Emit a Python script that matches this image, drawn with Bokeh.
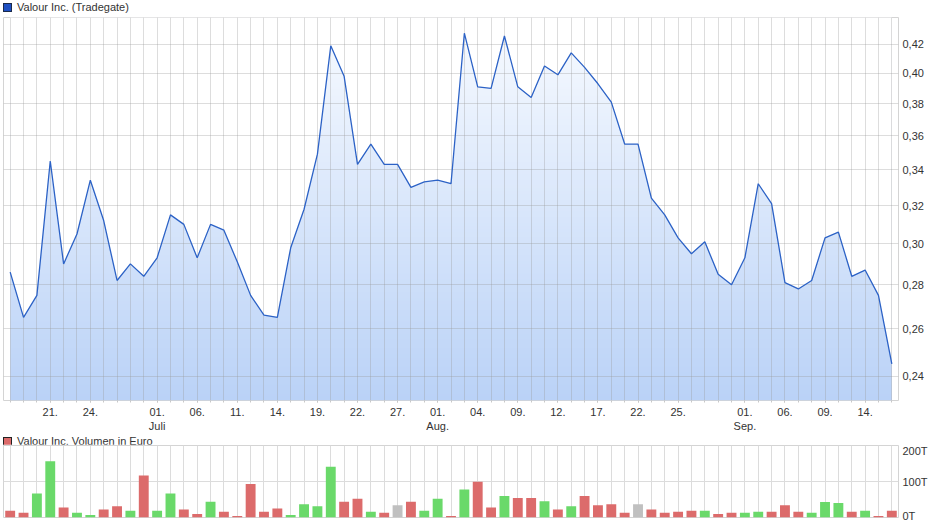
import numpy as np
from bokeh.plotting import figure
from bokeh.models import (FixedTicker, CustomJSTickFormatter, Range1d, ColumnDataSource, Div)
from bokeh.layouts import column
from bokeh.embed import file_html
from bokeh.resources import INLINE

# ---------------- data ----------------
dates = [
    "2022-06-16", "2022-06-17", "2022-06-20", "2022-06-21", "2022-06-22", "2022-06-23",
    "2022-06-24", "2022-06-27", "2022-06-28", "2022-06-29", "2022-06-30",
    "2022-07-01", "2022-07-04", "2022-07-05", "2022-07-06", "2022-07-07", "2022-07-08",
    "2022-07-11", "2022-07-12", "2022-07-13", "2022-07-14", "2022-07-15", "2022-07-18",
    "2022-07-19", "2022-07-20", "2022-07-21", "2022-07-22", "2022-07-25", "2022-07-26",
    "2022-07-27", "2022-07-28", "2022-07-29",
    "2022-08-01", "2022-08-02", "2022-08-03", "2022-08-04", "2022-08-05", "2022-08-08",
    "2022-08-09", "2022-08-10", "2022-08-11", "2022-08-12", "2022-08-15", "2022-08-16",
    "2022-08-17", "2022-08-18", "2022-08-19", "2022-08-22", "2022-08-23", "2022-08-24",
    "2022-08-25", "2022-08-26", "2022-08-29", "2022-08-30", "2022-08-31",
    "2022-09-01", "2022-09-02", "2022-09-05", "2022-09-06", "2022-09-07", "2022-09-08",
    "2022-09-09", "2022-09-12", "2022-09-13", "2022-09-14", "2022-09-15", "2022-09-16",
]

price = [
    0.286, 0.265, 0.275, 0.345, 0.290, 0.305, 0.334, 0.312, 0.282, 0.290, 0.284,
    0.293, 0.315, 0.310, 0.293, 0.310, 0.307, 0.291, 0.275, 0.266, 0.265, 0.298,
    0.318, 0.349, 0.419, 0.398, 0.343, 0.355, 0.343, 0.343, 0.330, 0.333, 0.334,
    0.332, 0.428, 0.391, 0.390, 0.426, 0.391, 0.384, 0.405, 0.399, 0.414, 0.404,
    0.393, 0.381, 0.355, 0.355, 0.324, 0.315, 0.303, 0.295, 0.301, 0.285, 0.280,
    0.293, 0.332, 0.321, 0.281, 0.278, 0.282, 0.303, 0.306, 0.284, 0.287, 0.275,
    0.245,
]

# volume in thousand euro (T)
volume_t = [
    19, 13, 67, 156, 28, 13, 7, 22, 31, 19, 117, 19, 67, 22, 10, 44, 16, 4, 93, 16,
    25, 7, 37, 31, 141, 44, 52, 16, 13, 34, 44, 19, 52, 4, 78, 99, 28, 60, 54, 54,
    45, 22, 31, 60, 34, 37, 13, 37, 22, 13, 16, 19, 19, 10, 13, 13, 16, 16, 34, 16,
    13, 43, 40, 16, 19, 4, 19,
]

tick_dates = [
    "2022-06-21", "2022-06-24", "2022-07-01", "2022-07-06", "2022-07-11", "2022-07-14",
    "2022-07-19", "2022-07-22", "2022-07-27", "2022-08-01", "2022-08-04", "2022-08-09",
    "2022-08-12", "2022-08-17", "2022-08-22", "2022-08-25", "2022-09-01", "2022-09-06",
    "2022-09-09", "2022-09-14",
]
tick_texts = [
    "21.", "24.", "01.\nJuli", "06.", "11.", "14.", "19.", "22.", "27.", "01.\nAug.",
    "04.", "09.", "12.", "17.", "22.", "25.", "01.\nSep.", "06.", "09.", "14.",
]

price_ticks = [0.24, 0.26, 0.28, 0.30, 0.32, 0.34, 0.36, 0.38, 0.40, 0.42]
volume_ticks = [0, 100, 200]

price_title = "Valour Inc. (Tradegate)"
volume_title = "Valour Inc. Volumen in Euro"

# ---------------- derived ----------------
n = len(dates)
idx = list(range(n))
tick_idx = [dates.index(d) for d in tick_dates]

GREEN, RED, GRAY = "#6ad96a", "#dc6b6b", "#c0c0c0"
bar_colors = []
for i in range(n):
    if i == 0 or price[i] < price[i - 1]:
        bar_colors.append(RED)
    elif price[i] > price[i - 1]:
        bar_colors.append(GREEN)
    else:
        bar_colors.append(GRAY)

FONT = "Liberation Sans"
TXT = "#333333"
W = 940
LEFT = 3
RIGHT = 42

y_lo, y_hi = 0.2303, 0.4395


def legend_div(label, fill, border, h):
    html = (
        f'<div style="display:flex;align-items:center;height:{h}px;'
        f'font-family:\'{FONT}\';font-size:11px;color:{TXT};white-space:nowrap;">'
        f'<span style="display:inline-block;box-sizing:border-box;width:9px;height:9px;'
        f'background:{fill};border:1px solid {border};margin:0 5px 0 3px;"></span>'
        f'<span>{label}</span></div>'
    )
    return Div(text=html, width=W, height=h, margin=(0, 0, 0, 0))


# ---------------- price chart ----------------
p = figure(width=W, height=421, x_range=Range1d(-0.5, n - 0.5),
           y_range=Range1d(y_lo, y_hi), y_axis_type="log", y_axis_location="right",
           output_backend="svg", toolbar_location=None,
           min_border_left=LEFT, min_border_right=RIGHT, min_border_top=4, min_border_bottom=0)
p.outline_line_color = "#d4d4d4"
p.background_fill_color = "white"

# gradient underlay (fills the area under the line together with the white mask)
rows = 256
t = np.linspace(0.0, 1.0, rows)[:, None]
c_bot = np.array([186, 210, 247], dtype=float)
c_top = np.array([248, 251, 255], dtype=float)
rgb = c_bot + (c_top - c_bot) * t
img = np.empty((rows, 2), dtype=np.uint32)
view = img.view(dtype=np.uint8).reshape((rows, 2, 4))
for k in range(3):
    view[:, :, k] = rgb[:, k].round().astype(np.uint8)[:, None]
view[:, :, 3] = 255
p.image_rgba(image=[img], x=0, y=y_lo, dw=n - 1, dh=y_hi - y_lo, level="image")

src = ColumnDataSource(dict(x=idx, price=price, top=[y_hi] * n))
p.varea(x="x", y1="price", y2="top", source=src, fill_color="white", level="image")

p.line(x="x", y="price", source=src, line_color="#2c62c6", line_width=1.3)

# grids
p.xgrid.ticker = FixedTicker(ticks=idx)
p.ygrid.ticker = FixedTicker(ticks=price_ticks)
for g in (p.xgrid, p.ygrid):
    g.grid_line_color = "#999999"
    g.grid_line_alpha = 0.33
    g.level = "underlay"

# axes
p.yaxis.ticker = FixedTicker(ticks=price_ticks)
p.yaxis.formatter = CustomJSTickFormatter(code="return tick.toFixed(2).replace('.', ',');")
p.yaxis.major_tick_line_color = None
p.yaxis.minor_tick_line_color = None
p.yaxis.major_tick_out = 0
p.yaxis.minor_tick_out = 0
p.yaxis.axis_line_color = None
p.yaxis.major_label_standoff = 4
p.yaxis.major_label_text_font = FONT
p.yaxis.major_label_text_font_size = "11px"
p.yaxis.major_label_text_color = TXT

p.xaxis.ticker = FixedTicker(ticks=tick_idx, minor_ticks=idx)
p.xaxis.major_label_overrides = {i: s for i, s in zip(tick_idx, tick_texts)}
p.xaxis.axis_line_color = None
p.xaxis.major_tick_line_color = "#c8c8c8"
p.xaxis.minor_tick_line_color = "#c8c8c8"
p.xaxis.major_tick_in = 0
p.xaxis.major_tick_out = 2
p.xaxis.minor_tick_in = 0
p.xaxis.minor_tick_out = 2
p.xaxis.major_label_standoff = 3
p.xaxis.major_label_text_font = FONT
p.xaxis.major_label_text_font_size = "11px"
p.xaxis.major_label_text_color = TXT

# ---------------- volume chart ----------------
v = figure(width=W, height=77, x_range=Range1d(-0.5, n - 0.5), y_range=Range1d(0, 200),
           y_axis_location="right", x_axis_location=None,
           output_backend="svg", toolbar_location=None,
           min_border_left=LEFT, min_border_right=RIGHT, min_border_top=1, min_border_bottom=4)
v.outline_line_color = "#d4d4d4"

vsrc = ColumnDataSource(dict(x=idx, vol=volume_t, color=bar_colors))
v.vbar(x="x", top="vol", bottom=0, width=0.74, source=vsrc, fill_color="color",
       line_color=None)

v.xgrid.ticker = FixedTicker(ticks=idx)
v.ygrid.ticker = FixedTicker(ticks=volume_ticks)
for g in (v.xgrid, v.ygrid):
    g.grid_line_color = "#dcdcdc"

v.yaxis.ticker = FixedTicker(ticks=volume_ticks)
v.yaxis.formatter = CustomJSTickFormatter(code="return tick.toFixed(0) + 'T';")
v.yaxis.major_tick_line_color = None
v.yaxis.minor_tick_line_color = None
v.yaxis.major_tick_out = 0
v.yaxis.minor_tick_out = 0
v.yaxis.axis_line_color = None
v.yaxis.major_label_standoff = 4
v.yaxis.major_label_text_font = FONT
v.yaxis.major_label_text_font_size = "11px"
v.yaxis.major_label_text_color = TXT

layout = column(legend_div(price_title, "#1e4fc2", "#1b2a4a", 13), p,
                legend_div(volume_title, RED, "#222222", 10), v, spacing=0)
open("out.html", "w").write(file_html(layout, INLINE))
